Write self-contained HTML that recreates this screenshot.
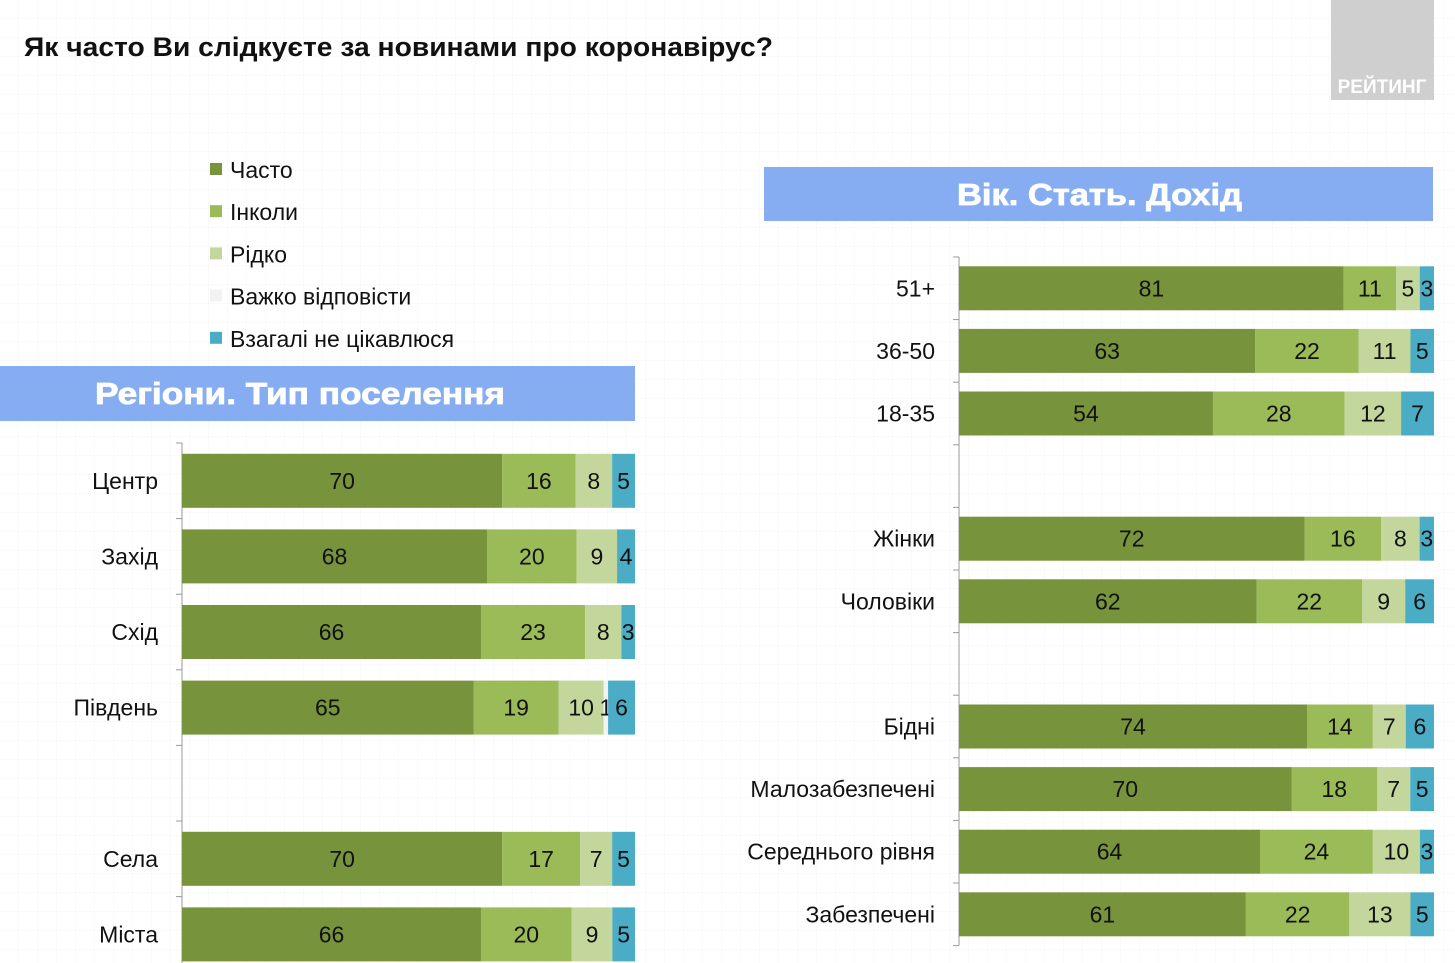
<!DOCTYPE html>
<html><head><meta charset="utf-8">
<style>
html,body{margin:0;padding:0;background:#fff;}
svg{display:block;font-family:"Liberation Sans Narrow","Liberation Sans",sans-serif;}
.t{font-family:"Liberation Sans",sans-serif;font-weight:bold;}
</style></head>
<body>
<svg id="chart" width="1455" height="963" viewBox="0 0 1455 963">
<defs>
<pattern id="grid" width="19" height="19" patternUnits="userSpaceOnUse">
<path d="M19 0V19H0" fill="none" stroke="#ececec" stroke-width="1"/>
</pattern>
</defs>
<rect width="1455" height="963" fill="url(#grid)" opacity="0.6"/>
<text x="24" y="56" class="t" font-size="27" fill="#111" textLength="749" lengthAdjust="spacingAndGlyphs">Як часто Ви слідкуєте за новинами про коронавірус?</text>
<g>
<rect x="1331" y="0" width="103" height="100" fill="#cfcfcf"/>
<text x="1382" y="93" text-anchor="middle" class="t" font-size="19" fill="#fff">РЕЙТИНГ</text>
</g>
<g id="legend"></g>
<g>
<rect x="0" y="366" width="635" height="55" fill="#86acf1"/>
<text x="95" y="404" class="t" font-size="31" fill="#fff" stroke="#fff" stroke-width="0.8" textLength="410" lengthAdjust="spacingAndGlyphs">Регіони. Тип поселення</text>
</g>
<g>
<rect x="764" y="167" width="669" height="54" fill="#86acf1"/>
<text x="957" y="205" class="t" font-size="31" fill="#fff" stroke="#fff" stroke-width="0.8" textLength="285" lengthAdjust="spacingAndGlyphs">Вік. Стать. Дохід</text>
</g>
<g id="left"></g>
<g id="right"></g>
</svg>
<script>
const seriesNames = ["Часто","Інколи","Рідко","Важко відповісти","Взагалі не цікавлюся"];
const colors = ["#77933c","#9bbb59","#c3d69b","#f2f2f2","#4bacc6"];

const leftCategories = ["Центр","Захід","Схід","Південь","","Села","Міста"];
const leftOften     = [70,68,66,65,null,70,66];
const leftSometimes = [16,20,23,19,null,17,20];
const leftRarely    = [8,9,8,10,null,7,9];
const leftHard      = [0,0,0,1,null,0,0];
const leftNever     = [5,4,3,6,null,5,5];

const rightCategories = ["51+","36-50","18-35","","Жінки","Чоловіки","","Бідні","Малозабезпечені","Середнього рівня","Забезпечені"];
const rightOften     = [81,63,54,null,72,62,null,74,70,64,61];
const rightSometimes = [11,22,28,null,16,22,null,14,18,24,22];
const rightRarely    = [5,11,12,null,8,9,null,7,7,10,13];
const rightHard      = [0,0,0,null,0,0,null,0,0,0,0];
const rightNever     = [3,5,7,null,3,6,null,6,5,3,5];

const NS="http://www.w3.org/2000/svg";
function mk(tag,attrs,parent){const e=document.createElementNS(NS,tag);for(const k in attrs)e.setAttribute(k,attrs[k]);parent.appendChild(e);return e;}

const lg=document.getElementById('legend');
seriesNames.forEach((n,i)=>{
  const y=170+i*42.2;
  const r=mk('rect',{x:210,y:y-7,width:12,height:12,fill:colors[i]},lg);
  
  
  const t=mk('text',{x:230,y:y+8,'font-size':23,fill:'#111'},lg);
  t.textContent=n;
  
  
});

function drawChart(g,cats,series,x0,x1,top,step,barH,labelX){
  const n=cats.length;
  mk('line',{x1:x0,y1:top,x2:x0,y2:top+n*step,stroke:'#999','stroke-width':1},g);
  for(let i=0;i<=n;i++){mk('line',{x1:x0-6,y1:top+i*step,x2:x0,y2:top+i*step,stroke:'#999'},g);}
  cats.forEach((c,i)=>{
    if(series[0][i]==null)return;
    const cy=top+(i+0.5)*step;
    const vals=series.map(s=>s[i]);
    const total=vals.reduce((a,b)=>a+b,0);
    const xs=v=>(x1-x0)*v/total;
    let x=x0;
    const lab=mk('text',{x:labelX,y:cy+8,'text-anchor':'end','font-size':23,fill:'#111'},g);
    lab.textContent=c;
    
    
    vals.forEach((v,k)=>{
      const w=xs(v);
      if(w>0){
        const r=mk('rect',{x:x,y:cy-barH/2,width:w,height:barH,fill:colors[k]},g);
        
        
        const t=mk('text',{x:x+w/2,y:cy+8,'text-anchor':'middle','font-size':23,fill:'#111'},g);
        t.textContent=v;
        
        
      }
      x+=w;
    });
  });
}
drawChart(document.getElementById('left'),leftCategories,[leftOften,leftSometimes,leftRarely,leftHard,leftNever],182,635,443,75.6,54,158);
drawChart(document.getElementById('right'),rightCategories,[rightOften,rightSometimes,rightRarely,rightHard,rightNever],959,1434,257,62.6,44,935);
</script>
</body></html>
